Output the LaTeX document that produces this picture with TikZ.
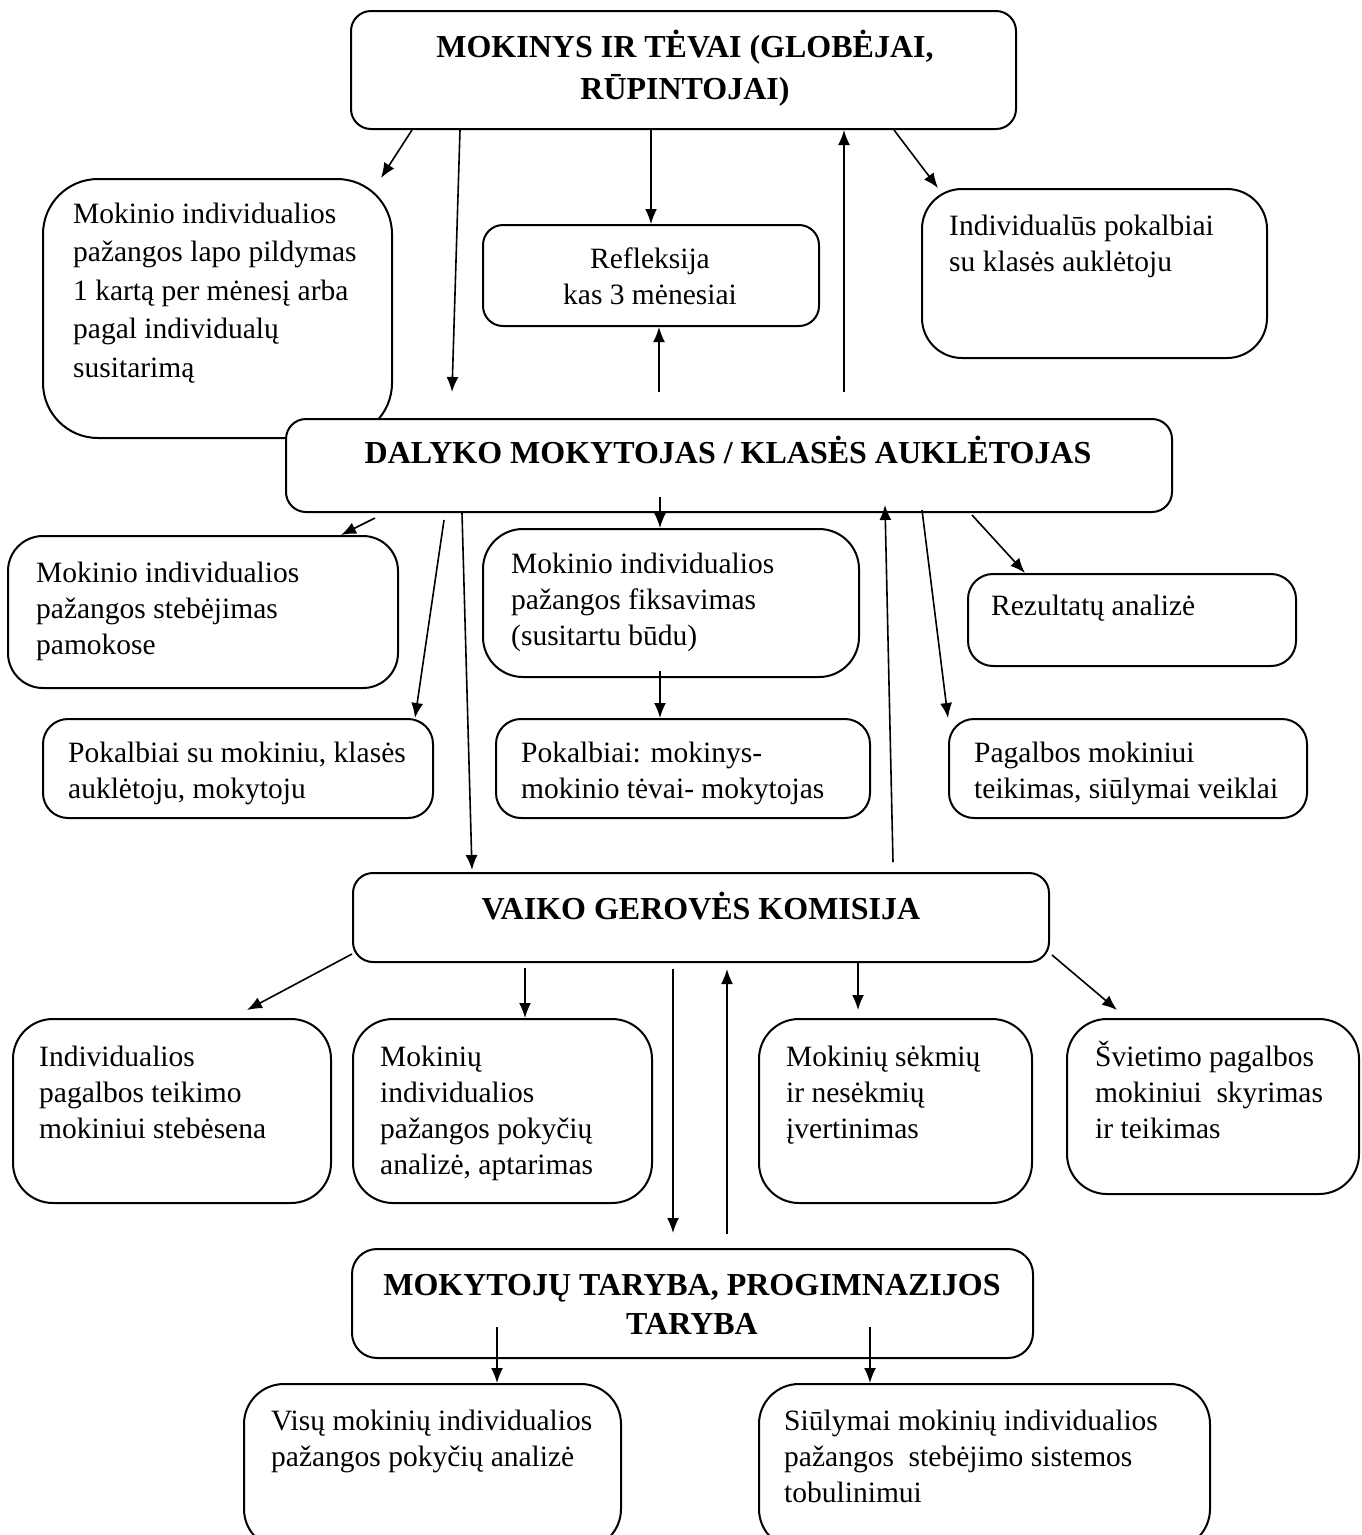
\documentclass[tikz,border=0pt]{standalone}
\usepackage{fontspec}
\setmainfont{Liberation Serif}
\usetikzlibrary{arrows.meta,positioning,calc}
\tikzstyle{card}=[draw,line width=2pt,fill=white,rounded corners=20pt,inner sep=0pt,anchor=north west]
\tikzstyle{txt}=[inner sep=0pt,align=left,anchor=north west,font=\fontsize{29.5}{36}\selectfont]
\tikzstyle{head}=[inner sep=0pt,align=center,font=\fontsize{32}{42}\selectfont\bfseries]
\tikzstyle{arr}=[-{Latex[length=15pt,width=12pt]},line width=1.6pt]

\begin{document}
\begin{tikzpicture}[x=1pt,y=-1pt]
\useasboundingbox (0,0) rectangle (1361,1535);
\clip (0,0) rectangle (1361,1535);
\fill[white] (0,0) rectangle (1361,1535);

% boxes
\node[card,minimum width=665,minimum height=118] (tevai) at (350,10) {};
\node[card,minimum width=349,minimum height=259,rounded corners=55pt] (lapas) at (42,178) {};
\node[card,minimum width=336,minimum height=101] (refl) at (482,224) {};
\node[card,minimum width=345,minimum height=169,rounded corners=40pt] (pokalb) at (921,188) {};
\node[card,minimum width=886,minimum height=93] (mokyt) at (285,418) {};
\node[card,minimum width=390,minimum height=152,rounded corners=35pt] (stebej) at (7,535) {};
\node[card,minimum width=376,minimum height=148,rounded corners=40pt] (fiks) at (482,528) {};
\node[card,minimum width=328,minimum height=92,rounded corners=25pt] (rezult) at (967,573) {};
\node[card,minimum width=390,minimum height=99,rounded corners=25pt] (pokmok) at (42,718) {};
\node[card,minimum width=374,minimum height=99,rounded corners=25pt] (pokteva) at (495,718) {};
\node[card,minimum width=358,minimum height=99,rounded corners=25pt] (pagalb) at (948,718) {};
\node[card,minimum width=696,minimum height=89] (vgk) at (352,872) {};
\node[card,minimum width=318,minimum height=184,rounded corners=40pt] (stebes) at (12,1018) {};
\node[card,minimum width=299,minimum height=184,rounded corners=40pt] (pokyc) at (352,1018) {};
\node[card,minimum width=273,minimum height=184,rounded corners=40pt] (sekm) at (758,1018) {};
\node[card,minimum width=292,minimum height=175,rounded corners=40pt] (svietim) at (1066,1018) {};
\node[card,minimum width=681,minimum height=109,rounded corners=25pt] (taryba) at (351,1248) {};
\node[card,minimum width=377,minimum height=165,rounded corners=40pt] (visu) at (243,1383) {};
\node[card,minimum width=451,minimum height=165,rounded corners=40pt] (siul) at (758,1383) {};

% headings
\node[head,anchor=north] (tevai-t) at (685,27.6) {\strut MOKINYS IR TĖVAI (GLOBĖJAI,\\RŪPINTOJAI)};
\node[head,anchor=base] (mokyt-t) at (728,463) {DALYKO MOKYTOJAS / KLASĖS AUKLĖTOJAS};
\node[head,anchor=base] (vgk-t) at (701,919) {VAIKO GEROVĖS KOMISIJA};
\node[head,anchor=north,font=\fontsize{32}{39}\selectfont\bfseries] (taryba-t) at (692,1267.7) {\strut MOKYTOJŲ TARYBA, PROGIMNAZIJOS\\TARYBA};

% texts
\node[txt,font=\fontsize{29.5}{38.5}\selectfont] (lapas-t) at (73,196) {\strut Mokinio individualios\\pažangos lapo pildymas\\1 kartą per mėnesį arba\\pagal individualų\\susitarimą};
\node[txt,anchor=north,align=center] (refl-t) at (650,242.8) {\strut Refleksija\\kas 3 mėnesiai};
\node[txt] (pokalb-t) at (949,209.8) {\strut Individualūs pokalbiai\\su klasės auklėtoju};
\node[txt] (stebej-t) at (36,556.8) {\strut Mokinio individualios\\pažangos stebėjimas\\pamokose};
\node[txt] (fiks-t) at (511,547.8) {\strut Mokinio individualios\\pažangos fiksavimas\\(susitartu būdu)};
\node[txt] (rezult-t) at (991,589.8) {\strut Rezultatų analizė};
\node[txt] (pokmok-t) at (68,736.8) {\strut Pokalbiai su mokiniu, klasės\\auklėtoju, mokytoju};
\node[txt] (pokteva-t) at (521,736.8) {\strut Pokalbiai: mokinys-\\mokinio tėvai- mokytojas};
\node[txt] (pagalb-t) at (974,736.8) {\strut Pagalbos mokiniui\\teikimas, siūlymai veiklai};
\node[txt] (stebes-t) at (39,1040.8) {\strut Individualios\\pagalbos teikimo\\mokiniui stebėsena};
\node[txt] (pokyc-t) at (380,1040.8) {\strut Mokinių\\individualios\\pažangos pokyčių\\analizė, aptarimas};
\node[txt] (sekm-t) at (786,1040.8) {\strut Mokinių sėkmių\\ir nesėkmių\\įvertinimas};
\node[txt] (svietim-t) at (1095,1040.8) {\strut Švietimo pagalbos\\mokiniui\ \ skyrimas\\ir teikimas};
\node[txt] (visu-t) at (271,1404.8) {\strut Visų mokinių individualios\\pažangos pokyčių analizė};
\node[txt] (siul-t) at (784,1404.8) {\strut Siūlymai mokinių individualios\\pažangos\ \ stebėjimo sistemos\\tobulinimui};

% free ends
\coordinate (b1) at (452,392);
\coordinate (d0) at (844,392);
\coordinate (f0) at (659,392);
\coordinate (g0) at (375,518);
\coordinate (h0) at (444,520);
\coordinate (j0) at (660,497);
\coordinate (k0) at (660,671);
\coordinate (l0) at (893,862);
\coordinate (n0) at (972,515);
\coordinate (p0) at (525,968);
\coordinate (q0) at (673,969);
\coordinate (q1) at (673,1233);
\coordinate (r0) at (727,1234);
\coordinate (r1) at (727,969);
\coordinate (s0) at (858,962);
\coordinate (s1) at (858,1010);
\coordinate (u0) at (497,1327);
\coordinate (v0) at (870,1327);

% arrows
\draw[arr] ($(tevai.south west)+(62,0)$) -- ($(lapas.north east)+(-12,0)$);
\draw[arr] ($(tevai.south west)+(110,0)$) -- (b1);
\draw[arr] (refl.north |- tevai.south) -- (refl.north);
\draw[arr] (d0) -- (d0 |- tevai.south);
\draw[arr] ($(tevai.south east)+(-123,0)$) -- ($(pokalb.north west)+(17,0)$);
\draw[arr] (f0) -- (f0 |- refl.south);

\draw[arr] (g0) -- ($(stebej.north east)+(-58,0)$);
\draw[arr] (h0) -- ($(pokmok.north east)+(-19,0)$);
\draw[arr] ($(mokyt.south west)+(177,0)$) -- ($(vgk.north west)+(120,-2)$);
\draw[arr] (j0) -- (j0 |- fiks.north);
\draw[arr] (k0) -- (k0 |- pokteva.north);
\draw[arr] (l0) -- ($(mokyt.south west)+(600,-8)$);
\draw[arr] ($(mokyt.south west)+(637,-3)$) -- (pagalb.north west);
\draw[arr] (n0) -- ($(rezult.north west)+(58,0)$);

\draw[arr] ($(vgk.south west)+(0,-9)$) -- ($(stebes.north west)+(235,-8)$);
\draw[arr] (p0) -- (p0 |- pokyc.north);
\draw[arr] (q0) -- (q1);
\draw[arr] (r0) -- (r1);
\draw[arr] (s0) -- (s1);
\draw[arr] ($(vgk.south east)+(2,-8)$) -- ($(svietim.north west)+(51,-8)$);

\draw[arr] (u0) -- (u0 |- visu.north);
\draw[arr] (v0) -- (v0 |- siul.north);
\end{tikzpicture}
\end{document}
